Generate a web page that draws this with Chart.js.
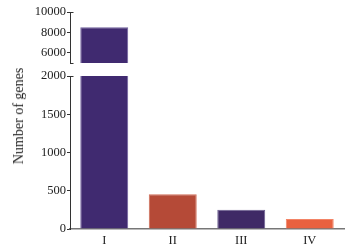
<!DOCTYPE html>
<html>
<head>
<meta charset="utf-8">
<script src="https://cdn.jsdelivr.net/npm/chart.js@4"></script>
<style>
  html, body { margin: 0; padding: 0; background: #fff; }
  #wrap { position: relative; width: 350px; height: 247px; overflow: hidden; }
  #wrap canvas { position: absolute; left: 0; top: 0; }
  #ytitle {
    position: absolute; left: 19px; top: 116px;
    transform: translate(-50%, -50%) rotate(-90deg);
    font-family: "Liberation Serif", serif; font-size: 14px; color: #222;
    white-space: nowrap;
  }
</style>
</head>
<body>
<div id="wrap">
  <canvas id="top" width="350" height="247"></canvas>
  <canvas id="bottom" width="350" height="247"></canvas>
  <div id="ytitle">Number of genes</div>
</div>
<script>
const categories = ['I', 'II', 'III', 'IV'];
const geneCounts = [8500, 455, 252, 130];
const barColors = ['#402a70', '#b54a37', '#3f2a66', '#e9613f'];
const barBorders = ['#6e5f9c', '#d06c57', '#6b5f90', '#f38466'];
const topAxisRange = [5000, 10000];
const bottomAxisRange = [0, 2000];
const topTicks = [6000, 8000, 10000];
const bottomTicks = [0, 500, 1000, 1500, 2000];
const yAxisTitle = 'Number of genes';

document.getElementById('ytitle').textContent = yAxisTitle;

const FONT = { family: 'Liberation Serif', size: 12.5 };
const AXIS_W = 70;

const stubPlugin = {
  id: 'breakStubs',
  afterDraw(chart, args, opts) {
    const { ctx, chartArea } = chart;
    ctx.save();
    ctx.strokeStyle = '#333';
    ctx.lineWidth = 1;
    (opts.ends || []).forEach(end => {
      const y = Math.round(end === 'top' ? chartArea.top : chartArea.bottom) + 0.5;
      ctx.beginPath();
      ctx.moveTo(chartArea.left, y);
      ctx.lineTo(chartArea.left + 3.5, y);
      ctx.stroke();
    });
    ctx.restore();
  }
};

function yScale(range, tickList) {
  return {
    min: range[0], max: range[1],
    afterBuildTicks: s => { s.ticks = tickList.map(v => ({ value: v })); },
    afterFit: s => { s.width = AXIS_W; },
    ticks: { font: FONT, color: '#222', padding: 1, callback: v => String(v) },
    grid: { drawOnChartArea: false, drawTicks: true, tickLength: 3, color: '#333' },
    border: { display: true, color: '#333', width: 1 }
  };
}

Chart.defaults.animation = false;

new Chart(document.getElementById('top'), {
  type: 'bar',
  data: {
    labels: categories,
    datasets: [{
      data: geneCounts.map(v => v > topAxisRange[0] ? v : null),
      backgroundColor: barColors, borderColor: barBorders, borderWidth: 1,
      barPercentage: 0.7, categoryPercentage: 1.0
    }]
  },
  options: {
    responsive: false,
    layout: { padding: { top: 12, bottom: 184, right: 6, left: 0 } },
    plugins: { legend: { display: false }, tooltip: { enabled: false }, breakStubs: { ends: ['top', 'bottom'] } },
    scales: {
      x: { display: false },
      y: yScale(topAxisRange, topTicks)
    }
  },
  plugins: [stubPlugin]
});

new Chart(document.getElementById('bottom'), {
  type: 'bar',
  data: {
    labels: categories,
    datasets: [{
      data: geneCounts,
      backgroundColor: barColors, borderColor: barBorders, borderWidth: 1,
      barPercentage: 0.7, categoryPercentage: 1.0
    }]
  },
  options: {
    responsive: false,
    layout: { padding: { top: 76, bottom: 0, right: 6, left: 0 } },
    plugins: { legend: { display: false }, tooltip: { enabled: false }, breakStubs: { ends: ['top'] } },
    scales: {
      x: {
        afterFit: s => { s.height = 18; },
        ticks: { font: FONT, color: '#222', padding: 4 },
        grid: { display: false, drawTicks: false },
        border: { display: true, color: '#777', width: 1.5 }
      },
      y: yScale(bottomAxisRange, bottomTicks)
    }
  },
  plugins: [stubPlugin]
});
</script>
</body>
</html>
